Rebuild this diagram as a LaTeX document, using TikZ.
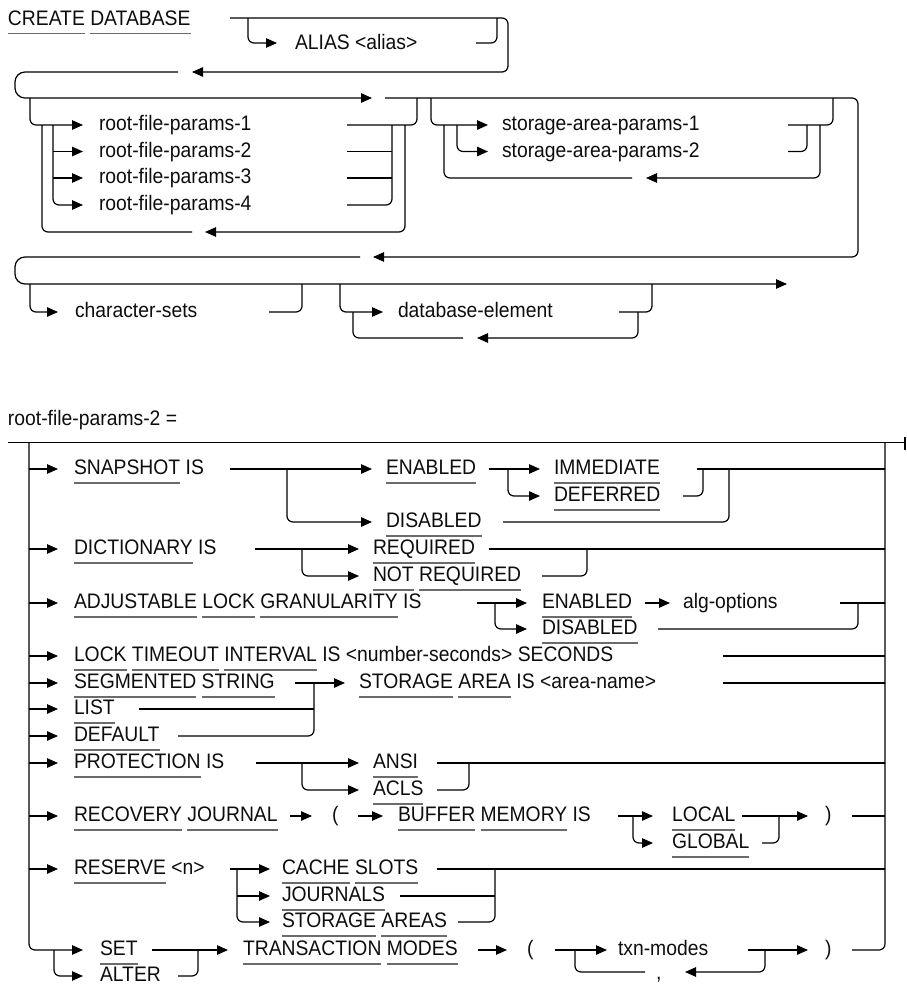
\documentclass[tikz,border=0pt]{standalone}
\usepackage{fontspec}
\setmainfont{Liberation Sans}[FakeStretch=0.92]
\usetikzlibrary{arrows.meta}
\definecolor{ulc}{gray}{0.42}
\definecolor{txc}{gray}{0.05}
\newsavebox\kwbox
\newcommand\kw[1]{\sbox\kwbox{#1}\rlap{\textcolor{ulc}{\rule[-9pt]{\wd\kwbox}{1.4pt}}}\usebox\kwbox}
\tikzset{
  rail/.style={line width=1.2pt, rounded corners=6pt},
  bigrail/.style={line width=1.2pt, rounded corners=10pt},
  arr/.style={rail, -{Triangle[length=11pt,width=9.5pt]}},
  bigarr/.style={bigrail, -{Triangle[length=11pt,width=9.5pt]}},
  txt/.style={anchor=base west, inner sep=0pt, outer sep=0pt, text=txc,
              font=\fontsize{21}{25}\selectfont},
}
\begin{document}
\begin{tikzpicture}[x=1pt,y=-1pt]
\useasboundingbox (0,0) rectangle (907,985);

% ================= CREATE DATABASE =================
\node[txt] (cd) at (8,25) {\kw{CREATE} \kw{DATABASE}};
\node[txt] (alias) at (295,49) {ALIAS <alias>};
\draw[arr] (230,18) -- (508,18) -- (508,72) -- (192,72);
\draw[arr] (248,18) -- (248,43) -- (277,43);
\draw[rail] (476,43) -- (497,43) -- (497,18);
\draw[bigarr] (178,72) -- (15,72) -- (15,98) -- (372,98);
\draw[arr] (385,98) -- (858,98) -- (858,257) -- (373,257);
\draw[bigarr] (360,257) -- (15,257) -- (15,284) -- (787,284);

% root-file-params box
\node[txt] (r1) at (99,130.5) {root-file-params-1};
\node[txt] (r2) at (99,157) {root-file-params-2};
\node[txt] (r3) at (99,183.5) {root-file-params-3};
\node[txt] (r4) at (99,210.5) {root-file-params-4};
\draw[arr] (30,98) -- (30,125) -- (83,125);
\draw[arr] (53,125) -- (53,205) -- (83,205);
\draw[arr] (53,151.5) -- (83,151.5);
\draw[arr] (53,178) -- (83,178);
\draw[arr] (405,125) -- (405,232) -- (205,232);
\draw[rail] (192,232) -- (42,232) -- (42,125);
\draw[rail] (347,125) -- (417,125) -- (417,98);
\draw[rail] (347,151.5) -- (392,151.5);
\draw[rail] (347,178) -- (392,178);
\draw[rail] (347,205) -- (392,205) -- (392,125);

% storage-area-params box
\node[txt] (s1) at (502,130.5) {storage-area-params-1};
\node[txt] (s2) at (502,157) {storage-area-params-2};
\draw[arr] (431,98) -- (431,125) -- (488,125);
\draw[arr] (457,125) -- (457,151.5) -- (488,151.5);
\draw[arr] (820,125) -- (820,178) -- (646,178);
\draw[rail] (632,178) -- (444,178) -- (444,125);
\draw[rail] (788,125) -- (833,125) -- (833,98);
\draw[rail] (788,151.5) -- (807,151.5) -- (807,125);

% character-sets / database-element
\node[txt] (cs) at (75,317.5) {character-sets};
\node[txt] (de) at (398,317.5) {database-element};
\draw[arr] (30,284) -- (30,312) -- (58,312);
\draw[rail] (269,312) -- (302,312) -- (302,284);
\draw[arr] (340,284) -- (340,312) -- (383,312);
\draw[rail] (619,312) -- (652,312) -- (652,284);
\draw[arr] (638,312) -- (638,338) -- (477,338);
\draw[rail] (463,338) -- (353,338) -- (353,312);

% ================= root-file-params-2 =================
\node[txt] (title) at (8,425) {root-file-params-2 =};
\draw[rail] (8,442.5) -- (904,442.5);
\draw[line width=1.8pt] (905,437) -- (905,450);
\draw[arr] (29,442.5) -- (29,950) -- (83,950);
\draw[rail] (885,442.5) -- (885,950) -- (852,950);
\foreach \y in {469,549,603,656,683,709,736,763,816,869}
  \draw[arr] (29,\y) -- (58,\y);

% SNAPSHOT
\node[txt] (snap) at (74,474.5) {\kw{SNAPSHOT} IS};
\node[txt] (en1) at (386,474.5) {\kw{ENABLED}};
\node[txt] (dis1) at (386,527.5) {\kw{DISABLED}};
\node[txt] (imm) at (554,474.5) {\kw{IMMEDIATE}};
\node[txt] (def) at (554,501.5) {\kw{DEFERRED}};
\draw[arr] (230,469) -- (372,469);
\draw[arr] (287,469) -- (287,522) -- (372,522);
\draw[arr] (489,469) -- (540,469);
\draw[arr] (508,469) -- (508,496) -- (540,496);
\draw[rail] (697,469) -- (885,469);
\draw[rail] (683,496) -- (703,496) -- (703,469);
\draw[rail] (503,522) -- (729,522) -- (729,469);

% DICTIONARY
\node[txt] (dict) at (74,554.5) {\kw{DICTIONARY} IS};
\node[txt] (req) at (373,554.5) {\kw{REQUIRED}};
\node[txt] (nreq) at (373,581.5) {\kw{NOT} \kw{REQUIRED}};
\draw[arr] (255,549) -- (359,549);
\draw[arr] (302,549) -- (302,576) -- (359,576);
\draw[rail] (489,549) -- (885,549);
\draw[rail] (542,576) -- (587,576) -- (587,549);

% ADJUSTABLE
\node[txt] (adj) at (74,608.5) {\kw{ADJUSTABLE} \kw{LOCK} \kw{GRANULARITY} IS};
\node[txt] (en2) at (542,608.5) {\kw{ENABLED}};
\node[txt] (dis2) at (542,634.5) {\kw{DISABLED}};
\node[txt] (alg) at (683,608.5) {alg-options};
\draw[arr] (477,603) -- (527,603);
\draw[arr] (495,603) -- (495,629) -- (527,629);
\draw[arr] (645,603) -- (670,603);
\draw[rail] (840,603) -- (885,603);
\draw[rail] (658,629) -- (858,629) -- (858,603);

% LOCK TIMEOUT
\node[txt] (lock) at (74,661.5) {\kw{LOCK} \kw{TIMEOUT} \kw{INTERVAL} IS <number-seconds> SECONDS};
\draw[rail] (723,656) -- (885,656);

% SEGMENTED / LIST / DEFAULT
\node[txt] (seg) at (74,688.5) {\kw{SEGMENTED} \kw{STRING}};
\node[txt] (list) at (74,714.5) {\kw{LIST}};
\node[txt] (dflt) at (74,741.5) {\kw{DEFAULT}};
\node[txt] (stor) at (359,688.5) {\kw{STORAGE} \kw{AREA} IS <area-name>};
\draw[arr] (295,683) -- (345,683);
\draw[rail] (139,709) -- (314,709);
\draw[rail] (178,736) -- (314,736) -- (314,683);
\draw[rail] (723,683) -- (885,683);

% PROTECTION
\node[txt] (prot) at (74,768.5) {\kw{PROTECTION} IS};
\node[txt] (ansi) at (373,768.5) {\kw{ANSI}};
\node[txt] (acls) at (373,795.5) {\kw{ACLS}};
\draw[arr] (256,763) -- (359,763);
\draw[arr] (302,763) -- (302,790) -- (359,790);
\draw[rail] (437,763) -- (885,763);
\draw[rail] (437,790) -- (469,790) -- (469,763);

% RECOVERY JOURNAL
\node[txt] (rec) at (74,821.5) {\kw{RECOVERY} \kw{JOURNAL}};
\node[txt] (lp1) at (332,821.5) {(};
\node[txt] (buf) at (398,821.5) {\kw{BUFFER} \kw{MEMORY} IS};
\node[txt] (loc) at (672,821.5) {\kw{LOCAL}};
\node[txt] (glob) at (672,848.5) {\kw{GLOBAL}};
\node[txt] (rp1) at (825,821.5) {)};
\draw[arr] (290,816) -- (312,816);
\draw[arr] (358,816) -- (383,816);
\draw[arr] (618,816) -- (653,816);
\draw[arr] (633,816) -- (633,843) -- (653,843);
\draw[arr] (742,816) -- (808,816);
\draw[rail] (762,843) -- (779,843) -- (779,816);
\draw[rail] (852,816) -- (885,816);

% RESERVE
\node[txt] (res) at (74,874.5) {\kw{RESERVE} <n>};
\node[txt] (cache) at (282,874.5) {\kw{CACHE} \kw{SLOTS}};
\node[txt] (jour) at (282,901.5) {\kw{JOURNALS}};
\node[txt] (sa) at (282,927.5) {\kw{STORAGE} \kw{AREAS}};
\draw[arr] (230,869) -- (270,869);
\draw[arr] (237,869) -- (237,922) -- (270,922);
\draw[arr] (237,896) -- (270,896);
\draw[rail] (437,869) -- (885,869);
\draw[rail] (400,896) -- (495,896);
\draw[rail] (458,922) -- (495,922) -- (495,869);

% SET / ALTER TRANSACTION MODES
\node[txt] (set) at (100,955.5) {\kw{SET}};
\node[txt] (alt) at (100,981.5) {\kw{ALTER}};
\node[txt] (tm) at (243,955.5) {\kw{TRANSACTION} \kw{MODES}};
\node[txt] (lp2) at (527,955.5) {(};
\node[txt] (txn) at (618,955.5) {txn-modes};
\node[txt] (rp2) at (825,955.5) {)};
\node[txt] (comma) at (656,979) {,};
\draw[arr] (54,950) -- (54,976) -- (83,976);
\draw[arr] (152,950) -- (228,950);
\draw[rail] (178,976) -- (198,976) -- (198,950);
\draw[arr] (478,950) -- (507,950);
\draw[arr] (555,950) -- (607,950);
\draw[arr] (748,950) -- (808,950);
\draw[arr] (765,950) -- (765,972) -- (685,972);
\draw[rail] (645,972) -- (575,972) -- (575,950);
\end{tikzpicture}
\end{document}
